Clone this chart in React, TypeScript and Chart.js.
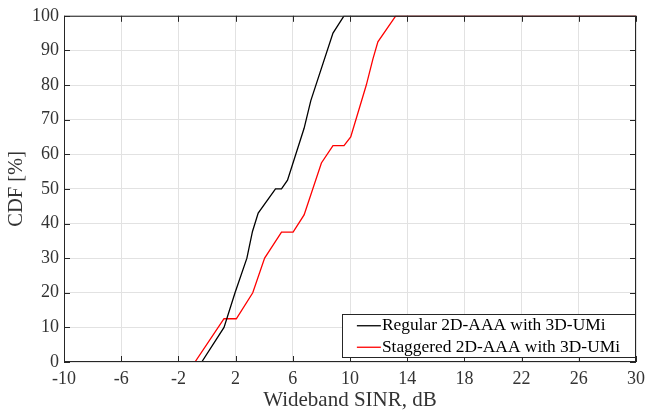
import React, { useEffect, useRef } from 'react';
import { Chart, registerables } from 'chart.js';
Chart.register(...registerables);

const regularX = [-10, -0.37, 1.19, 1.96, 2.79, 3.18, 3.58, 4.79, 5.21, 5.63, 6.79, 7.26, 8.81, 9.58, 30];
const regularY = [0, 0, 10, 20, 30, 37.7, 43, 50, 50, 52.5, 67.5, 75.5, 95, 100, 100];
const staggeredX = [-10, -0.84, 1.19, 2.05, 3.2, 4.03, 5.21, 6.02, 6.79, 8, 8.81, 9.58, 10.05, 11.14, 11.6, 11.95, 13.2, 30];
const staggeredY = [0, 0, 12.5, 12.5, 20, 30, 37.5, 37.5, 42.5, 57.5, 62.5, 62.5, 65, 80, 87.5, 92.5, 100, 100];
const seriesLabels = ['Regular 2D-AAA with 3D-UMi', 'Staggered 2D-AAA with 3D-UMi'];
const xTitle = 'Wideband SINR, dB';
const yTitle = 'CDF [%]';

const FONT = "'Liberation Serif', 'Times New Roman', serif";

const boxPlugin = {
  id: 'boxPlugin',
  afterDraw(chart: any) {
    const { ctx, chartArea } = chart;
    const { left, right, top, bottom } = chartArea;
    ctx.save();
    ctx.strokeStyle = '#262626';
    ctx.lineWidth = 1;
    ctx.strokeRect(left + 0.5, top + 0.5, right - left - 1, bottom - top - 1);
    const xs = chart.scales.x;
    const ys = chart.scales.y;
    const tl = 6;
    ctx.beginPath();
    xs.ticks.forEach((t: any) => {
      const px = Math.round(xs.getPixelForValue(t.value)) + 0.5;
      ctx.moveTo(px, bottom);
      ctx.lineTo(px, bottom - tl);
      ctx.moveTo(px, top);
      ctx.lineTo(px, top + tl);
    });
    ys.ticks.forEach((t: any) => {
      const py = Math.round(ys.getPixelForValue(t.value)) + 0.5;
      ctx.moveTo(left, py);
      ctx.lineTo(left + tl, py);
      ctx.moveTo(right, py);
      ctx.lineTo(right - tl, py);
    });
    ctx.stroke();

    // legend
    ctx.font = `17.4px ${FONT}`;
    const datasets = chart.data.datasets;
    let maxW = 0;
    datasets.forEach((d: any) => {
      maxW = Math.max(maxW, ctx.measureText(d.label).width);
    });
    const lineLen = 24;
    const boxRight = right - 1;
    const boxBottom = bottom - 5;
    const rowH = 21.5;
    const boxH = rowH * datasets.length;
    const boxW = 15 + lineLen + 1 + maxW + 15;
    const boxLeft = boxRight - boxW;
    const boxTop = boxBottom - boxH;
    ctx.fillStyle = '#fff';
    ctx.fillRect(boxLeft, boxTop, boxW, boxH);
    ctx.strokeStyle = '#262626';
    ctx.lineWidth = 1;
    ctx.strokeRect(Math.round(boxLeft) + 0.5, Math.round(boxTop) + 0.5, Math.round(boxW), Math.round(boxH));
    datasets.forEach((d: any, i: number) => {
      const cy = boxTop + rowH * i + rowH / 2 + 1;
      ctx.strokeStyle = d.borderColor;
      ctx.lineWidth = 1.3;
      ctx.beginPath();
      ctx.moveTo(boxLeft + 15, cy);
      ctx.lineTo(boxLeft + 15 + lineLen, cy);
      ctx.stroke();
      ctx.fillStyle = '#000';
      ctx.textBaseline = 'middle';
      ctx.textAlign = 'left';
      ctx.fillText(d.label, boxLeft + 15 + lineLen + 1, cy);
    });
    ctx.restore();
  },
};

export default function App() {
  const ref = useRef<HTMLCanvasElement>(null);
  useEffect(() => {
    if (!ref.current) return;
    const chart = new Chart(ref.current, {
      type: 'line',
      data: {
        datasets: [
          {
            label: seriesLabels[0],
            data: regularX.map((x, i) => ({ x, y: regularY[i] })),
            borderColor: '#000000',
            borderWidth: 1.3,
            pointRadius: 0,
            tension: 0,
            fill: false,
          },
          {
            label: seriesLabels[1],
            data: staggeredX.map((x, i) => ({ x, y: staggeredY[i] })),
            borderColor: '#ff0000',
            borderWidth: 1.3,
            pointRadius: 0,
            tension: 0,
            fill: false,
          },
        ],
      },
      options: {
        animation: false,
        responsive: false,
        layout: { padding: { left: 0, top: 13, right: 13, bottom: 0 } },
        plugins: {
          legend: { display: false },
          tooltip: { enabled: false },
        },
        scales: {
          x: {
            type: 'linear',
            min: -10,
            max: 30,
            afterBuildTicks: (s: any) => {
              const t = [];
              for (let v = -10; v <= 30; v += 4) t.push({ value: v });
              s.ticks = t;
            },
            afterFit: (s: any) => { s.height = 54; },
            grid: { color: '#e2e2e2', drawTicks: false, lineWidth: 1 },
            border: { display: false },
            ticks: {
              color: '#333',
              font: { family: FONT, size: 18 },
              padding: 6,
              maxRotation: 0,
              autoSkip: false,
            },
            title: {
              display: true,
              text: xTitle,
              color: '#333',
              font: { family: FONT, size: 21 },
              padding: { top: 0, bottom: 3 },
            },
          },
          y: {
            type: 'linear',
            min: 0,
            max: 100,
            afterFit: (s: any) => { s.width = 64; },
            grid: { color: '#e2e2e2', drawTicks: false, lineWidth: 1 },
            border: { display: false },
            ticks: {
              color: '#333',
              font: { family: FONT, size: 18 },
              padding: 5,
              stepSize: 10,
            },
            title: {
              display: true,
              text: yTitle,
              color: '#333',
              font: { family: FONT, size: 20.5 },
              padding: { top: 4, bottom: 0 },
            },
          },
        },
      },
      plugins: [boxPlugin],
    } as any);
    return () => chart.destroy();
  }, []);
  return (
    <div style={{ position: 'absolute', left: 0, top: 0, width: 651, height: 416, background: '#fff' }}>
      <canvas ref={ref} width={651} height={416} style={{ display: 'block' }} />
    </div>
  );
}
